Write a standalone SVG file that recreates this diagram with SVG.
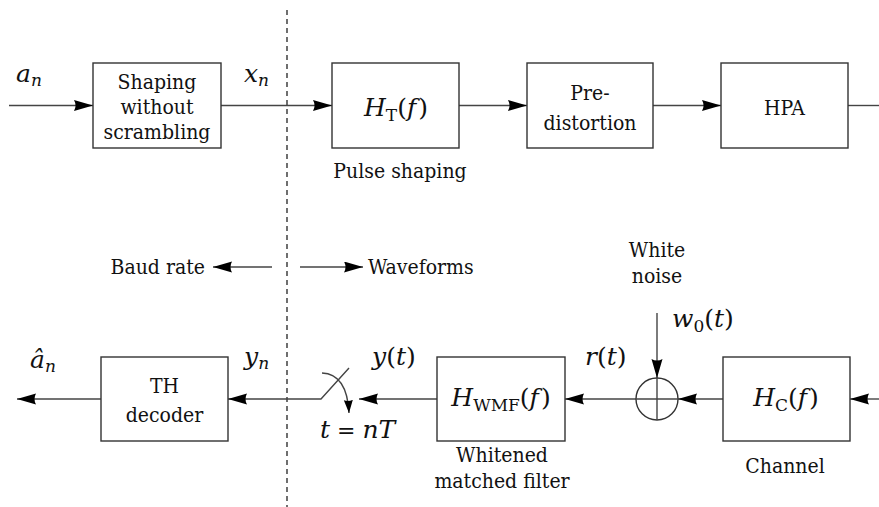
<svg xmlns="http://www.w3.org/2000/svg" width="879" height="507" viewBox="0 0 879 507">
<style>
.box{fill:#fff;stroke:#333;stroke-width:1.4}
.ln{fill:none;stroke:#444;stroke-width:1.4}
text{font-family:'DejaVu Serif','Liberation Serif',serif;font-stretch:condensed}
.t{font-size:21px;fill:#111}
.m{font-size:25px;font-style:italic;font-stretch:normal;fill:#111}
.up{font-style:normal}
.sub{font-size:17px;font-style:normal}
.subi{font-size:17px;font-style:italic}
.dash{fill:none;stroke:#222;stroke-width:1.3;stroke-dasharray:5 4}
</style>
<defs>
<marker id="ah" markerUnits="userSpaceOnUse" markerWidth="20" markerHeight="12" refX="19" refY="5.5" orient="auto">
<path d="M0,0 L19,5.5 L0,11 Q3,5.5 0,0 z" fill="#000"/>
</marker>
<marker id="ahs" markerUnits="userSpaceOnUse" markerWidth="14" markerHeight="10" refX="13" refY="4.5" orient="auto">
<path d="M0,0 L13,4.5 L0,9 Q2,4.5 0,0 z" fill="#000"/>
</marker>
</defs>
<line class="dash" x1="287" y1="10" x2="287" y2="507"/>
<g id="connectors">
<line class="ln" x1="9" y1="105.5" x2="93" y2="105.5" marker-end="url(#ah)"/>
<line class="ln" x1="221" y1="105.5" x2="332" y2="105.5" marker-end="url(#ah)"/>
<line class="ln" x1="459" y1="105.5" x2="527" y2="105.5" marker-end="url(#ah)"/>
<line class="ln" x1="653" y1="105.5" x2="721" y2="105.5" marker-end="url(#ah)"/>
<line class="ln" x1="848" y1="105.5" x2="879" y2="105.5"/>
<line class="ln" x1="879" y1="399" x2="850" y2="399" marker-end="url(#ah)"/>
<line class="ln" x1="723" y1="399" x2="678" y2="399" marker-end="url(#ah)"/>
<line class="ln" x1="657" y1="313" x2="657" y2="378" marker-end="url(#ah)"/>
<line class="ln" x1="636" y1="399" x2="565" y2="399" marker-end="url(#ah)"/>
<line class="ln" x1="437" y1="399" x2="359" y2="399" marker-end="url(#ah)"/>
<polyline class="ln" points="349,368 321,399 228,399" marker-end="url(#ah)"/>
<path class="ln" d="M322,373 Q347,374 349,413" marker-end="url(#ahs)"/>
<line class="ln" x1="101" y1="399" x2="17" y2="399" marker-end="url(#ah)"/>
<line class="ln" x1="272" y1="267" x2="213" y2="267" marker-end="url(#ah)"/>
<line class="ln" x1="300" y1="267" x2="363" y2="267" marker-end="url(#ah)"/>
</g>
<g id="shaping">
<rect class="box" x="93" y="63" width="128" height="85"/>
<text class="t" x="157" y="89" text-anchor="middle">Shaping</text>
<text class="t" x="157" y="114" text-anchor="middle">without</text>
<text class="t" x="157" y="139" text-anchor="middle">scrambling</text>
</g>
<g id="ht">
<rect class="box" x="332" y="63" width="127" height="85"/>
<text class="m" x="396" y="116" text-anchor="middle">H<tspan class="sub" dy="5">T</tspan><tspan class="up" dy="-5">(</tspan>f<tspan class="up" dx="2">)</tspan></text>
<text class="t" x="400" y="178" text-anchor="middle">Pulse shaping</text>
</g>
<g id="predistortion">
<rect class="box" x="527" y="63" width="126" height="85"/>
<text class="t" x="590" y="100" text-anchor="middle">Pre-</text>
<text class="t" x="590" y="130" text-anchor="middle">distortion</text>
</g>
<g id="hpa">
<rect class="box" x="721" y="63" width="127" height="85"/>
<text class="t" x="784.5" y="115" text-anchor="middle">HPA</text>
</g>
<g id="hc">
<rect class="box" x="723" y="357" width="127" height="84"/>
<text class="m" x="786" y="406" text-anchor="middle">H<tspan class="sub" dy="5">C</tspan><tspan class="up" dy="-5">(</tspan>f<tspan class="up" dx="2">)</tspan></text>
<text class="t" x="785" y="473" text-anchor="middle">Channel</text>
</g>
<g id="sum">
<circle cx="657" cy="399" r="21" fill="none" stroke="#333" stroke-width="1.4"/>
<line class="ln" x1="636" y1="399" x2="678" y2="399"/>
<line class="ln" x1="657" y1="378" x2="657" y2="420"/>
<text class="t" x="657" y="257" text-anchor="middle">White</text>
<text class="t" x="657" y="283" text-anchor="middle">noise</text>
<text class="m" x="672" y="327">w<tspan class="sub" dy="5">0</tspan><tspan class="up" dy="-5">(</tspan>t<tspan class="up">)</tspan></text>
</g>
<g id="hwmf">
<rect class="box" x="437" y="357" width="128" height="84"/>
<text class="m" x="501" y="406" text-anchor="middle">H<tspan class="sub" dy="5">WMF</tspan><tspan class="up" dy="-5">(</tspan>f<tspan class="up" dx="2">)</tspan></text>
<text class="t" x="502" y="462" text-anchor="middle">Whitened</text>
<text class="t" x="502" y="488" text-anchor="middle">matched filter</text>
</g>
<g id="th">
<rect class="box" x="101" y="357" width="127" height="84"/>
<text class="t" x="164.5" y="393" text-anchor="middle">TH</text>
<text class="t" x="164.5" y="422" text-anchor="middle">decoder</text>
</g>
<g id="labels">
<text class="m" x="16" y="82">a<tspan class="subi" dy="4">n</tspan></text>
<text class="m" x="244" y="82">x<tspan class="subi" dy="4">n</tspan></text>
<text class="m" x="30" y="368">â<tspan class="subi" dy="4">n</tspan></text>
<text class="m" x="244" y="365">y<tspan class="subi" dy="4">n</tspan></text>
<text class="m" x="372" y="365">y<tspan class="up">(</tspan>t<tspan class="up">)</tspan></text>
<text class="m" x="585" y="365">r<tspan class="up">(</tspan>t<tspan class="up">)</tspan></text>
<text class="m" x="320" y="438">t<tspan class="up" font-size="22"> = </tspan>nT</text>
<text class="t" x="205" y="274" text-anchor="end">Baud rate</text>
<text class="t" x="368" y="274">Waveforms</text>
</g>
</svg>
